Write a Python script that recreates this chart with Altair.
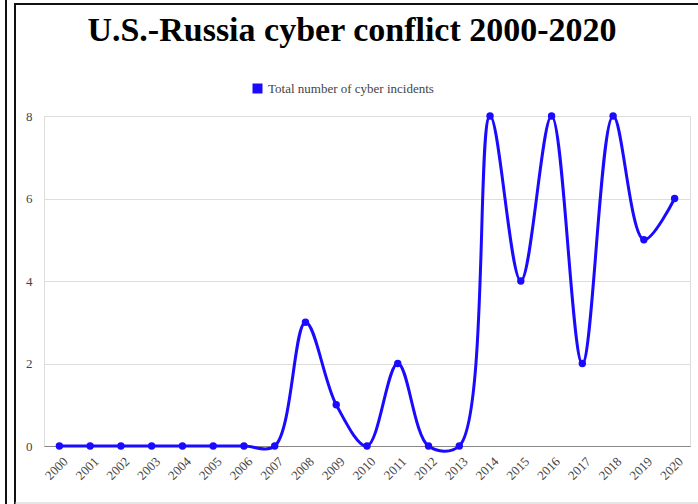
import altair as alt
import pandas as pd

years = [str(y) for y in range(2000, 2021)]
incidents = [0, 0, 0, 0, 0, 0, 0, 0, 3, 1, 0, 2, 0, 0, 8, 4, 8, 2, 8, 5, 6]
series_name = "Total number of cyber incidents"
title_text = "U.S.-Russia cyber conflict 2000-2020"
y_ticks = [0, 2, 4, 6, 8]

BLUE = "#1a0aff"
FONT = "Liberation Serif"

df = pd.DataFrame({"year": years, "count": incidents, "series": series_name})

base = alt.Chart(df).encode(
    x=alt.X(
        "year:O",
        sort=years,
        scale=alt.Scale(type="point", padding=0.5),
        axis=alt.Axis(
            title=None,
            labelAngle=-45,
            labelAlign="right",
            labelBaseline="middle",
            labelPadding=13,
            labelOffset=6,
            ticks=False,
            domainColor="#888888",
            domainWidth=1,
            grid=False,
            labelFont=FONT,
            labelFontSize=13,
            labelColor="#444444",
        ),
    ),
    y=alt.Y(
        "count:Q",
        scale=alt.Scale(domain=[0, 8], nice=False, zero=True),
        axis=alt.Axis(
            title=None,
            values=y_ticks,
            ticks=False,
            domain=False,
            grid=True,
            gridColor="#dddddd",
            labelPadding=12,
            labelFont=FONT,
            labelFontSize=13,
            labelColor="#444444",
        ),
    ),
    color=alt.Color(
        "series:N",
        scale=alt.Scale(domain=[series_name], range=[BLUE]),
        legend=alt.Legend(
            title=None,
            orient="none",
            legendX=207,
            legendY=-34,
            symbolType="square",
            symbolSize=100,
            symbolStrokeWidth=0,
            labelFont=FONT,
            labelFontSize=13,
            labelColor="#444444",
            labelLimit=400,
        ),
    ),
)

line = base.mark_line(interpolate="catmull-rom", strokeWidth=3)
points = base.mark_point(filled=True, size=55, opacity=1)

frame_df = pd.DataFrame({"k": [0]})
frame_left1 = alt.Chart(frame_df).mark_rule(color="#111111", strokeWidth=2).encode(
    x=alt.value(-38), y=alt.value(-116), y2=alt.value(388)
)
frame_left2 = alt.Chart(frame_df).mark_rule(color="#111111", strokeWidth=2).encode(
    x=alt.value(-29), y=alt.value(-112), y2=alt.value(388)
)
frame_top = alt.Chart(frame_df).mark_rule(color="#111111", strokeWidth=2).encode(
    x=alt.value(-30), x2=alt.value(654), y=alt.value(-112)
)
frame_bottom = alt.Chart(frame_df).mark_rule(color="#cccccc", strokeWidth=1).encode(
    x=alt.value(-29), x2=alt.value(654), y=alt.value(387)
)

chart = (
    alt.layer(line, points, frame_left1, frame_left2, frame_top, frame_bottom)
    .properties(
        width=646,
        height=330,
        autosize=alt.AutoSizeParams(type="none"),
        padding={"left": 44, "top": 116, "right": 8, "bottom": 58},
        title=alt.TitleParams(
            text=title_text,
            font=FONT,
            fontSize=34,
            fontWeight="bold",
            color="#000000",
            anchor="middle",
            frame="group",
            dx=-15,
            offset=36,
            dy=85,
        ),
    )
    .configure_view(stroke=None)
    .configure(background="white")
)

chart.save("out.html", embed_options={"renderer": "svg", "actions": False})
